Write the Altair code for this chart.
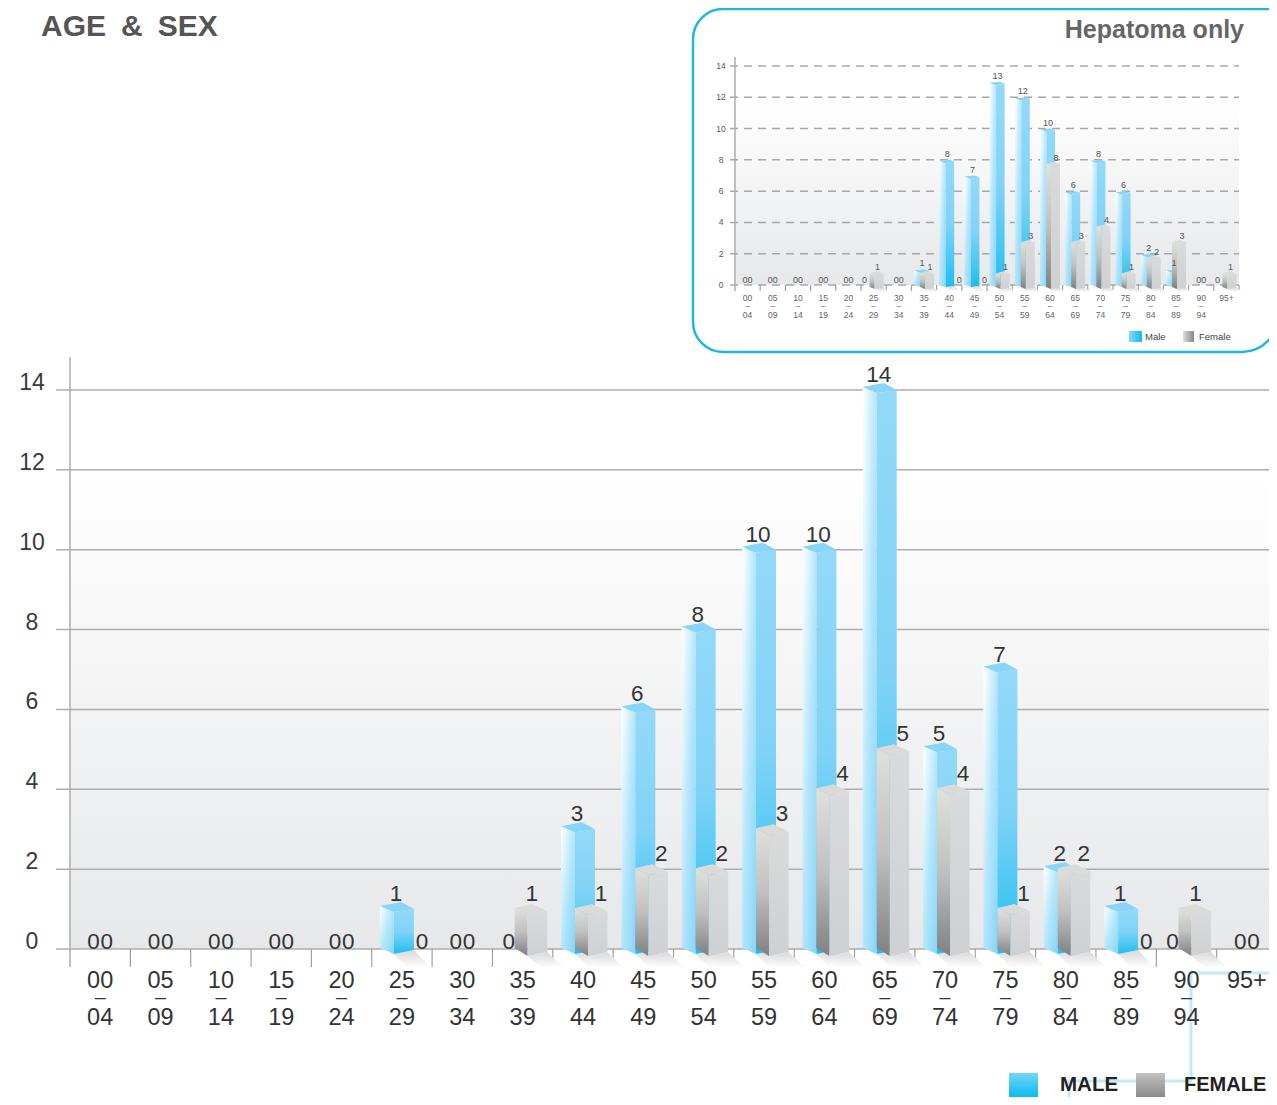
import altair as alt
import numpy as np
import pandas as pd

age_top = ["00","05","10","15","20","25","30","35","40","45","50","55","60","65","70","75","80","85","90","95+"]
age_bottom = ["04","09","14","19","24","29","34","39","44","49","54","59","64","69","74","79","84","89","94",""]
all_male = [0,0,0,0,0,1,0,0,3,6,8,10,10,14,5,7,2,1,0,0]
all_female = [0,0,0,0,0,0,0,1,1,2,2,3,4,5,4,1,2,0,1,0]
hep_male = [0,0,0,0,0,0,0,1,8,7,13,12,10,6,8,6,2,1,0,0]
hep_female = [0,0,0,0,0,1,0,1,0,0,1,3,8,3,4,1,2,3,0,1]
y_ticks = [0,2,4,6,8,10,12,14]

FONT = "Liberation Sans"
OFF = 8  # page margin


def vgrad(stops):
    return alt.Gradient(gradient="linear", x1=0, y1=0, x2=0, y2=1,
                        stops=[alt.GradientStop(offset=o, color=c) for o, c in stops])


def hgrad(stops):
    return alt.Gradient(gradient="linear", x1=0, y1=0, x2=1, y2=0,
                        stops=[alt.GradientStop(offset=o, color=c) for o, c in stops])


def dgrad(stops):
    return alt.Gradient(gradient="linear", x1=0, y1=0, x2=1, y2=1,
                        stops=[alt.GradientStop(offset=o, color=c) for o, c in stops])


M_LEFT = dgrad([(0, "#ffffff"), (0.5, "#b5e6fb"), (1, "#86d5f8")])
M_FRONT = vgrad([(0, "#93d9f9"), (0.5, "#80d3f7"), (0.85, "#3cc5f1"), (1, "#1cbcee")])
M_TOP = "#87d5f8"
F_LEFT = vgrad([(0, "#e0e1dc"), (0.5, "#c0c0c0"), (1, "#808080")])
F_FRONT = vgrad([(0, "#d9dadc"), (1, "#cfd0d2")])
F_TOP = "#dadbd9"

MAIN = dict(
    x0=70, x1=1277, y0=949, y1=390, n=14,
    male=dict(xs=(-22, -8, -1, 12), top=(-3, -7, 0, 3), bot=(-1, 5, 1)),
    female=dict(xs=(-8, 5, 9, 24.5), top=(-1, -5, 2, 6), bot=(-1, 7, 3)),
    m_off=-6, f_with=18, f_alone=9, zero_l=-14, zero_r=20, z=6.6,
    m_dy=-15, f_dy=-15, zero_dy=-7,
    val_size=22.5, val_color="#333333",
    tick_size=23, tick_x=32, tick_dy=-7, tick_color="#3a3a3a",
    lab=(32, 50, 69), lab_size=23.5, dash_size=11, lab_color="#333333",
    grid_left=56, grid_color="#adadad", grid_w=1.5, dash=None,
    tick_len=18, axis_top=357, axis_bot=967,
    bg_top=0.14, shadow=(7, 19, 17),
)
INSET = dict(
    x0=735, x1=1239, y0=285, y1=66, n=14,
    male=dict(xs=(-10, -3.5, 0, 5), top=(1, 0, 1.5, 3.5), bot=(0, 2, 1)),
    female=dict(xs=(-4, 1, 4, 10), top=(4, 2, 4, 5), bot=(2, 4, 3)),
    m_off=-2, f_with=6, f_alone=4, zero_l=-9, zero_r=10, z=2.5,
    m_dy=-6, f_dy=-2, zero_dy=-5,
    val_size=9, val_color="#555555",
    tick_size=8.5, tick_x=721, tick_dy=0, tick_color="#555555",
    lab=(13, 22, 30), lab_size=8.5, dash_size=4.5, lab_color="#666666",
    grid_left=730, grid_color="#a8a8a8", grid_w=1.5, dash=[8, 6],
    tick_len=6, axis_top=57, axis_bot=291,
    bg_top=0.14, shadow=(3, 7, 7),
)


def polygon(group, upper, lower):
    xs = sorted({p[0] for p in upper} | {p[0] for p in lower})
    ux, uy = zip(*upper)
    lx, ly = zip(*lower)
    return [dict(group=group, x=x, y=float(np.interp(x, ux, uy)), y2=float(np.interp(x, lx, ly))) for x in xs]


def panel(male, female, cfg):
    step = (cfg["x1"] - cfg["x0"]) / 20
    ppu = (cfg["y0"] - cfg["y1"]) / cfg["n"]
    fx = lambda k, px: k + 0.5 + px / step
    fy = lambda v, px: v - px / ppu

    X = alt.X("x:Q", axis=None, title=None,
              scale=alt.Scale(domain=[0, 20], range=[cfg["x0"] - OFF, cfg["x1"] - OFF], nice=False, zero=False))
    Y = alt.Y("y:Q", axis=None, title=None,
              scale=alt.Scale(domain=[0, cfg["n"]], range=[cfg["y0"] - OFF, cfg["y1"] - OFF], nice=False, zero=False))

    def faces(values, geo):
        xl, xr, xb, xe = geo["xs"]
        tl, tb, te, tf = geo["top"]
        bl, bf, be = geo["bot"]
        left, front, top, shadow = [], [], [], []
        sa, sb, sc = cfg["shadow"]
        for k, v in enumerate(values):
            if not v:
                continue
            left += polygon(k, [(fx(k, xl), fy(v, tl)), (fx(k, xr), fy(v, tf))],
                            [(fx(k, xl), fy(0, bl)), (fx(k, xr), fy(0, bf))])
            front += polygon(k, [(fx(k, xr), fy(v, tf)), (fx(k, xe), fy(v, te))],
                             [(fx(k, xr), fy(0, bf)), (fx(k, xe), fy(0, be))])
            top += polygon(k, [(fx(k, xl), fy(v, tl)), (fx(k, xb), fy(v, tb)), (fx(k, xe), fy(v, te))],
                           [(fx(k, xl), fy(v, tl)), (fx(k, xr), fy(v, tf)), (fx(k, xe), fy(v, te))])
            shadow += polygon(k, [(fx(k, xr), fy(0, bf)), (fx(k, xe), fy(0, be)), (fx(k, xe + sc), fy(0, sb))],
                              [(fx(k, xr), fy(0, bf)), (fx(k, xr + sa * 2), fy(0, sb)), (fx(k, xe + sc), fy(0, sb))])
        return pd.DataFrame(left), pd.DataFrame(front), pd.DataFrame(top), pd.DataFrame(shadow)

    def area(df, fill):
        return alt.Chart(df).mark_area(fill=fill, opacity=1, line=False, interpolate="linear").encode(
            x=X, y=Y, y2="y2:Q", detail="group:N")

    grid = pd.DataFrame({"y": y_ticks})
    grid["x"] = (cfg["grid_left"] - cfg["x0"]) / step
    grid["x2"] = 20.0
    grid_args = dict(color=cfg["grid_color"], strokeWidth=cfg["grid_w"])
    if cfg["dash"]:
        grid_args["strokeDash"] = cfg["dash"]
    layers = []

    bg = pd.DataFrame({"x": [0.0], "x2": [20.0], "y": [0.0], "y2": [float(cfg["n"])]})
    layers.append(alt.Chart(bg).mark_rect(
        fill=vgrad([(0, "#ffffff"), (cfg["bg_top"], "#ffffff"), (1, "#e7e8ea")])).encode(
        x=X, x2="x2:Q", y=Y, y2="y2:Q"))
    layers.append(alt.Chart(grid).mark_rule(**grid_args).encode(x=X, x2="x2:Q", y=Y))

    axis_df = pd.DataFrame({"x": [0.0], "y": [fy(cfg["n"], cfg["axis_top"] - cfg["y1"])],
                            "y2": [fy(0, cfg["axis_bot"] - cfg["y0"])]})
    layers.append(alt.Chart(axis_df).mark_rule(color="#adadad", strokeWidth=1.5).encode(x=X, y=Y, y2="y2:Q"))
    ticks = pd.DataFrame({"x": [float(i) for i in range(1, 21)]})
    ticks["y"] = 0.0
    ticks["y2"] = fy(0, cfg["tick_len"])
    layers.append(alt.Chart(ticks).mark_rule(color="#a0a0a0", strokeWidth=1.2).encode(x=X, y=Y, y2="y2:Q"))

    ml, mf, mt, ms = faces(male, cfg["male"])
    wl, wf, wt, ws = faces(female, cfg["female"])
    shade = vgrad([(0, "#d8d8d8"), (1, "#ffffff")])
    layers += [area(ms, shade), area(ws, shade)]
    layers += [area(ml, M_LEFT), area(mf, M_FRONT), area(mt, M_TOP)]
    layers += [area(wl, F_LEFT), area(wf, F_FRONT), area(wt, F_TOP)]

    rows = []
    for k, (m, f) in enumerate(zip(male, female)):
        if m == 0 and f == 0:
            rows.append((fx(k, -cfg["z"]), fy(0, cfg["zero_dy"]), "0"))
            rows.append((fx(k, cfg["z"]), fy(0, cfg["zero_dy"]), "0"))
            continue
        if m:
            rows.append((fx(k, cfg["m_off"]), fy(m, cfg["m_dy"]), str(m)))
        else:
            rows.append((fx(k, cfg["zero_l"]), fy(0, cfg["zero_dy"]), "0"))
        if f:
            rows.append((fx(k, cfg["f_with"] if m else cfg["f_alone"]), fy(f, cfg["f_dy"]), str(f)))
        else:
            rows.append((fx(k, cfg["zero_r"]), fy(0, cfg["zero_dy"]), "0"))
    vals = pd.DataFrame(rows, columns=["x", "y", "t"])
    layers.append(alt.Chart(vals).mark_text(font=FONT, fontSize=cfg["val_size"], color=cfg["val_color"],
                                            baseline="middle", align="center").encode(x=X, y=Y, text="t:N"))

    yl = pd.DataFrame({"v": y_ticks})
    yl["y"] = fy(yl["v"], cfg["tick_dy"])
    yl["x"] = (cfg["tick_x"] - cfg["x0"]) / step
    yl["t"] = yl["v"].astype(str)
    layers.append(alt.Chart(yl).mark_text(font=FONT, fontSize=cfg["tick_size"], color=cfg["tick_color"],
                                          baseline="middle", align="center").encode(x=X, y=Y, text="t:N"))

    centres = [k + 0.5 for k in range(20)]
    has2 = [i for i, b in enumerate(age_bottom) if b]
    top_df = pd.DataFrame({"x": centres, "y": [fy(0, cfg["lab"][0])] * 20, "t": age_top})
    bot_df = pd.DataFrame({"x": [centres[i] for i in has2], "y": [fy(0, cfg["lab"][2])] * len(has2),
                           "t": [age_bottom[i] for i in has2]})
    dash_df = pd.DataFrame({"x": [centres[i] for i in has2], "y": [fy(0, cfg["lab"][1])] * len(has2),
                            "t": ["—"] * len(has2)})
    for df, size, weight in ((top_df, cfg["lab_size"], "normal"), (bot_df, cfg["lab_size"], "normal"),
                             (dash_df, cfg["dash_size"], "bold")):
        layers.append(alt.Chart(df).mark_text(font=FONT, fontSize=size, fontWeight=weight, color=cfg["lab_color"],
                                              baseline="middle", align="center").encode(x=X, y=Y, text="t:N"))
    return alt.layer(*layers)


def px_rule(x, x2, y, y2):
    one = pd.DataFrame({"a": [0]})
    return alt.Chart(one).mark_rule(color="#c6e9f8", strokeWidth=3).encode(
        x=alt.value(x - OFF), x2=alt.value(x2 - OFF), y=alt.value(y - OFF), y2=alt.value(y2 - OFF))


def px_text(text, x, y, size, color, weight="normal", align="left"):
    one = pd.DataFrame({"t": [text]})
    return alt.Chart(one).mark_text(font=FONT, fontSize=size, color=color, fontWeight=weight, align=align,
                                    baseline="alphabetic").encode(
        x=alt.value(x - OFF), y=alt.value(y - OFF), text="t:N")


def px_rect(x, x2, y, y2, fill):
    one = pd.DataFrame({"a": [0]})
    return alt.Chart(one).mark_rect(fill=fill).encode(
        x=alt.value(x - OFF), x2=alt.value(x2 - OFF), y=alt.value(y - OFF), y2=alt.value(y2 - OFF))


one = pd.DataFrame({"a": [0]})
frame = alt.Chart(one).mark_rect(fill="#ffffff", fillOpacity=0, stroke="#1cb8e4", strokeWidth=2.5,
                                 cornerRadiusTopLeft=30, cornerRadiusBottomLeft=30,
                                 cornerRadiusBottomRight=36, cornerRadiusTopRight=0).encode(
    x=alt.value(693 - OFF), x2=alt.value(1278 - OFF), y=alt.value(9 - OFF), y2=alt.value(352 - OFF))

chrome = alt.layer(
    px_rule(1190, 1277, 973, 973),
    px_rule(1191, 1191, 973, 1082),
    px_rule(1068, 1191, 1081, 1081),
    px_rule(1069, 1069, 1081, 1105),
    frame,
    px_text("AGE\u2002&\u2002SEX", 41, 36, 30, "#555555", "bold"),
    px_text("Hepatoma only", 1244, 38, 25, "#666666", "bold", "right"),
    px_rect(1009, 1038, 1073, 1097, vgrad([(0, "#74d4f8"), (1, "#08bcef")])),
    px_rect(1136, 1165, 1073, 1097, vgrad([(0, "#c2c2c2"), (1, "#8a8a8a")])),
    px_text("MALE", 1060, 1091, 20.5, "#222222", "bold"),
    px_text("FEMALE", 1184, 1091, 20, "#222222", "bold"),
    px_rect(1129, 1142, 331, 342, hgrad([(0, "#8dd6f8"), (1, "#0cbcef")])),
    px_rect(1183, 1194, 331, 342, hgrad([(0, "#dcdcdc"), (1, "#888888")])),
    px_text("Male", 1145, 340, 9.5, "#444444"),
    px_text("Female", 1199, 340, 9.5, "#444444"),
)

chart = alt.layer(chrome, panel(all_male, all_female, MAIN), panel(hep_male, hep_female, INSET)).resolve_scale(
    x="independent", y="independent"
).properties(
    width=1261, height=1089, padding=0, autosize=alt.AutoSizeParams(type="none")
).configure_view(stroke=None)

chart.save("out.html", embed_options={"renderer": "svg", "actions": False})
